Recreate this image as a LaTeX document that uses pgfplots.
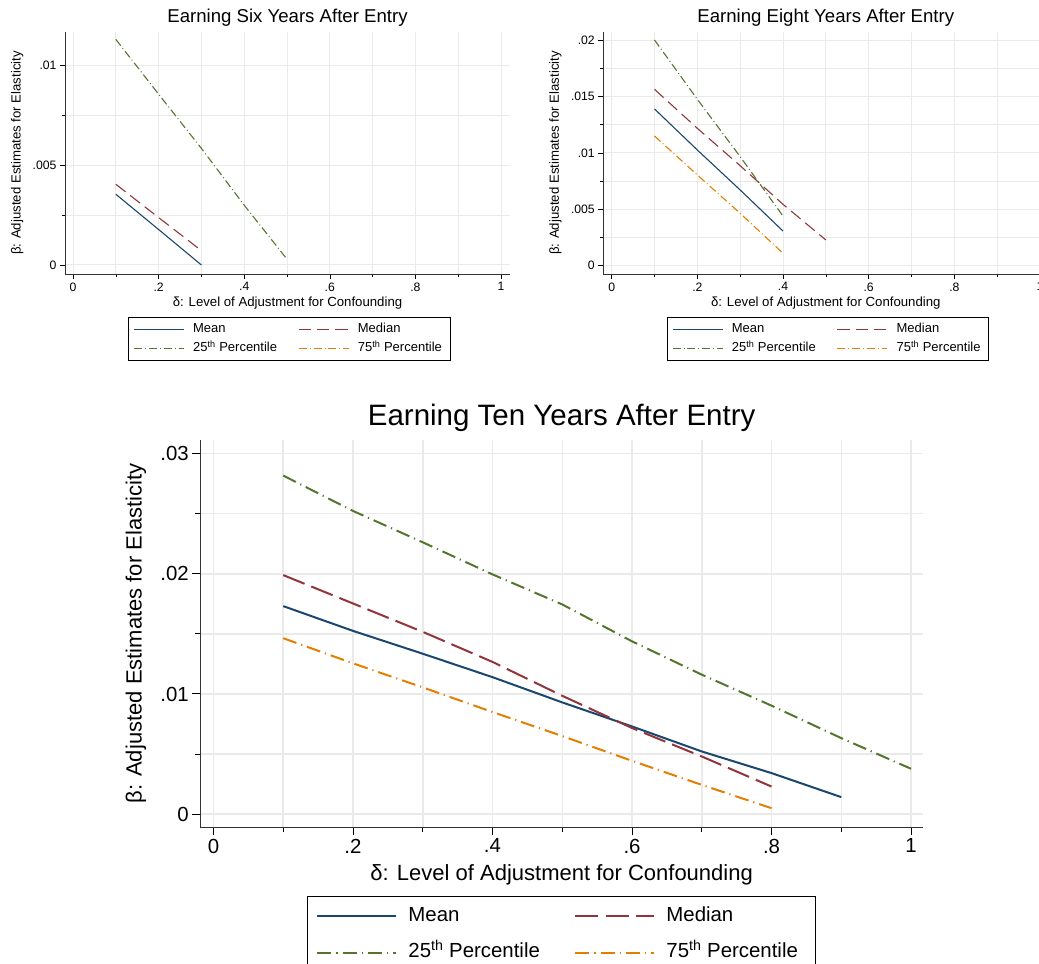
\documentclass[border=0pt]{standalone}
\usepackage{fontspec}
\setmainfont{Liberation Sans}
\usepackage{pgfplots}
\pgfplotsset{compat=1.18}

\definecolor{stnavy}{RGB}{26,71,111}
\definecolor{stmaroon}{RGB}{144,53,59}
\definecolor{stgreen}{RGB}{85,117,47}
\definecolor{storange}{RGB}{227,126,0}
\definecolor{stgrid}{RGB}{234,234,234}
\definecolor{staxis}{RGB}{50,50,50}

\newcommand\fsz[1]{\fontsize{#1}{#1}\selectfont}

\pgfplotsset{
  % common look of the three panels
  stataaxis/.style={
    scale only axis,
    axis x line=bottom, axis y line=left,
    axis line style={-, staxis},
    tick align=outside,
    tick style={black},
    grid=both,
    major grid style={stgrid},
    minor grid style={stgrid},
    scaled ticks=false,
    /pgf/number format/assume math mode=true,
    xtick={0,0.2,0.4,0.6,0.8,1},
    xticklabels={0,.2,.4,.6,.8,1},
    minor xtick={0.1,0.3,0.5,0.7,0.9},
    legend columns=2,
    legend cell align=left,
    xlabel={δ: Level of Adjustment for Confounding},
    ylabel={β: Adjusted Estimates for Elasticity},
  },
  % small panels
  smallpanel/.style={
    stataaxis,
    width=445pt, height=242pt,
    axis line style={line width=0.9pt},
    major grid style={line width=1pt},
    minor grid style={line width=1pt},
    tick style={line width=0.6pt},
    major tick length=5pt, minor tick length=3pt,
    ticklabel style={font=\fsz{12.2}},
    label style={font=\fsz{13.2}},
    title style={font=\fsz{18.6}, at={(axis description cs:0.5,1.033)}, anchor=center},
    xlabel style={at={(axis description cs:0.5,-0.122)}, anchor=center},
    ylabel style={at={(axis description cs:-0.1074,0.5)}, anchor=center, rotate=0},
    legend image code/.code={\draw[##1] (0pt,0pt) -- (50pt,0pt);},
    legend style={anchor=north west, draw=black, line width=0.6pt, fill=white,
      inner xsep=5pt, inner ysep=6pt, row sep=6.9pt, column sep=8.7pt,
      nodes={inner sep=0pt, text height=9.3pt, text depth=2.8pt, font=\fsz{13}}},
    smean/.style={stnavy, line width=1.1pt},
    smedian/.style={stmaroon, line width=1.1pt, dash pattern=on 12.3pt off 6pt},
    sp25/.style={stgreen, line width=1.1pt, dash pattern=on 8pt off 3pt on 0.9pt off 3pt},
    sp75/.style={storange, line width=1.1pt, dash pattern=on 8pt off 3pt on 0.9pt off 3pt},
  },
  % large panel
  bigpanel/.style={
    stataaxis,
    width=722.7pt, height=387.3pt,
    axis line style={line width=1.3pt},
    major grid style={line width=1.5pt},
    minor grid style={line width=1.5pt},
    tick style={line width=1pt},
    major tick length=8pt, minor tick length=5pt,
    ticklabel style={font=\fsz{20.4}},
    label style={font=\fsz{22}},
    title style={font=\fsz{29.5}, at={(axis description cs:0.5,1.0413)}, anchor=center},
    xlabel style={at={(axis description cs:0.5,-0.1231)}, anchor=center},
    ylabel style={at={(axis description cs:-0.0892,0.5)}, anchor=center, rotate=0},
    legend image code/.code={\draw[##1] (0pt,0pt) -- (79pt,0pt);},
    legend style={anchor=north west, draw=black, line width=0.9pt, fill=white,
      inner xsep=9pt, inner ysep=10pt, row sep=17pt, column sep=11pt,
      nodes={inner sep=0pt, text height=15pt, text depth=4.5pt, font=\fsz{20.4}}},
    smean/.style={stnavy, line width=2pt},
    smedian/.style={stmaroon, line width=2pt, dash pattern=on 23pt off 7.3pt},
    sp25/.style={stgreen, line width=2pt, dash pattern=on 14pt off 5pt on 1.2pt off 5pt},
    sp75/.style={storange, line width=2pt, dash pattern=on 14pt off 5pt on 1.2pt off 5pt},
  },
}

\begin{document}
\begin{tikzpicture}
\useasboundingbox (0pt,0pt) rectangle (1039pt,964pt);

% ---- Earning six years after entry ----
\begin{axis}[smallpanel,
  at={(65pt,690pt)}, anchor=south west,
  xmin=-0.0187, xmax=1.0210, ymin=-0.000452, ymax=0.01169,
  ytick={0,0.005,0.01}, yticklabels={0,.005,.01},
  minor ytick={0.0025,0.0075},
  title={Earning Six Years After Entry},
  legend style={at={(0.1416,-0.1789)}},
]
\addplot[smean] coordinates {(0.1,0.00355) (0.2,0.00178) (0.3,0.0000)};
\addlegendentry{\makebox[96.3pt][l]{Mean}}
\addplot[smedian] coordinates {(0.1,0.00405) (0.2,0.00238) (0.3,0.00072)};
\addlegendentry{\makebox[87pt][l]{Median}}
\addplot[sp25] coordinates {(0.1,0.01132) (0.2,0.00857) (0.3,0.00585) (0.4,0.00300) (0.5,0.00029)};
\addlegendentry{25\textsuperscript{th} Percentile}
\addlegendimage{sp75}
\addlegendentry{75\textsuperscript{th} Percentile}
\end{axis}

% ---- Earning eight years after entry ----
\begin{axis}[smallpanel,
  at={(603.3pt,690pt)}, anchor=south west,
  xmin=-0.0196, xmax=1.0194, ymin=-0.000735, ymax=0.02071,
  ytick={0,0.005,0.01,0.015,0.02}, yticklabels={0,.005,.01,.015,.02},
  minor ytick={0.0025,0.0075,0.0125,0.0175},
  title={Earning Eight Years After Entry},
  legend style={at={(0.1425,-0.1789)}},
]
\addplot[smean] coordinates {(0.1,0.01389) (0.2,0.01025) (0.3,0.00671) (0.4,0.00307)};
\addlegendentry{\makebox[96.3pt][l]{Mean}}
\addplot[smedian] coordinates {(0.1,0.01563) (0.2,0.01217) (0.3,0.00886) (0.4,0.00544) (0.5,0.00228)};
\addlegendentry{\makebox[87pt][l]{Median}}
\addplot[sp25] coordinates {(0.1,0.02000) (0.2,0.01474) (0.3,0.00966) (0.4,0.00440)};
\addlegendentry{25\textsuperscript{th} Percentile}
\addplot[sp75] coordinates {(0.1,0.01149) (0.2,0.00804) (0.3,0.00464) (0.4,0.00110)};
\addlegendentry{75\textsuperscript{th} Percentile}
\end{axis}

% ---- Earning ten years after entry ----
\begin{axis}[bigpanel,
  at={(200.3pt,136.7pt)}, anchor=south west,
  xmin=-0.01892, xmax=1.0172, ymin=-0.00109, ymax=0.03113,
  ytick={0,0.01,0.02,0.03}, yticklabels={0,.01,.02,.03},
  minor ytick={0.005,0.015,0.025},
  title={Earning Ten Years After Entry},
  legend style={at={(0.1476,-0.1774)}},
]
\addplot[smean] coordinates {(0.1,0.01731) (0.2,0.01525) (0.3,0.01335) (0.4,0.01140) (0.5,0.00930) (0.6,0.00730) (0.7,0.00522) (0.8,0.00342) (0.9,0.00142)};
\addlegendentry{\makebox[155pt][l]{Mean}}
\addplot[smedian] coordinates {(0.1,0.01989) (0.2,0.01753) (0.3,0.01517) (0.4,0.01267) (0.5,0.00985) (0.6,0.00717) (0.7,0.00480) (0.8,0.00230)};
\addlegendentry{\makebox[140pt][l]{Median}}
\addplot[sp25] coordinates {(0.1,0.02817) (0.2,0.02523) (0.3,0.02262) (0.4,0.01995) (0.5,0.01745) (0.6,0.01438) (0.7,0.01161) (0.8,0.00903) (0.9,0.00633) (1.0,0.00378)};
\addlegendentry{25\textsuperscript{th} Percentile}
\addplot[sp75] coordinates {(0.1,0.01464) (0.2,0.01255) (0.3,0.01055) (0.4,0.00850) (0.5,0.00650) (0.6,0.00444) (0.7,0.00244) (0.8,0.00050)};
\addlegendentry{75\textsuperscript{th} Percentile}
\end{axis}
\end{tikzpicture}
\end{document}
